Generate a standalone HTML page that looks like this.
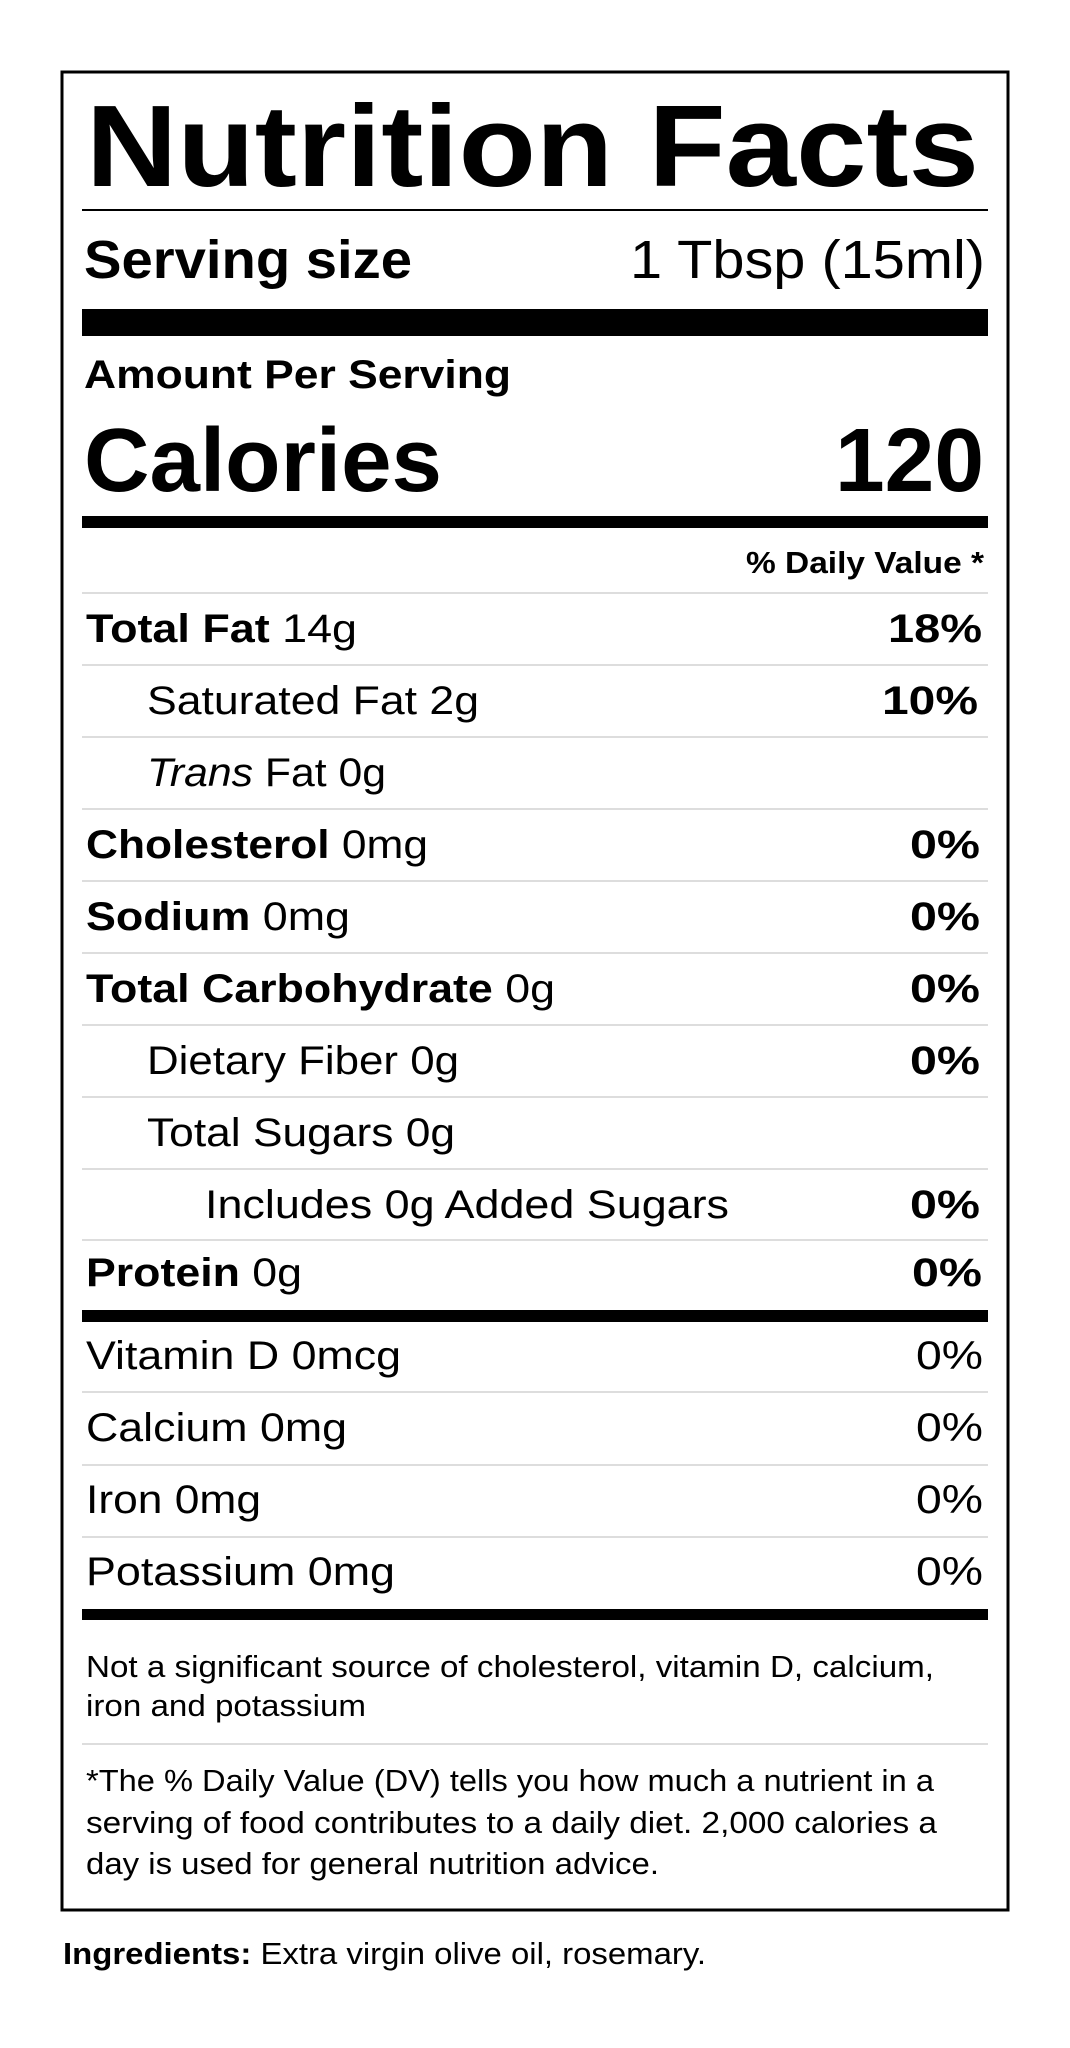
<!DOCTYPE html>
<html><head><meta charset="utf-8"><style>html,body{margin:0;padding:0;background:#fff}svg{display:block}text{font-family:"Liberation Sans",Arial,sans-serif;fill:#000}</style></head><body>
<svg width="1070" height="2048" viewBox="0 0 1070 2048" xmlns="http://www.w3.org/2000/svg">
<rect x="62" y="72" width="946" height="1838" fill="none" stroke="#000" stroke-width="3"/>
<text x="86" y="186" font-size="116" font-weight="bold" textLength="893" lengthAdjust="spacingAndGlyphs">Nutrition Facts</text>
<rect x="82" y="209" width="906" height="2" fill="#000"/>
<text x="84" y="278" font-size="54" font-weight="bold" textLength="328" lengthAdjust="spacingAndGlyphs">Serving size</text>
<text x="630" y="278" font-size="54" textLength="355" lengthAdjust="spacingAndGlyphs">1 Tbsp (15ml)</text>
<rect x="82" y="309" width="906" height="27" fill="#000"/>
<text x="84" y="388" font-size="40" font-weight="bold" textLength="427" lengthAdjust="spacingAndGlyphs">Amount Per Serving</text>
<text x="84" y="491" font-size="90" font-weight="bold" textLength="358" lengthAdjust="spacingAndGlyphs">Calories</text>
<text x="835" y="491" font-size="90" font-weight="bold" textLength="149" lengthAdjust="spacingAndGlyphs">120</text>
<rect x="82" y="516" width="906" height="12" fill="#000"/>
<text x="746" y="573" font-size="31" font-weight="bold" textLength="238" lengthAdjust="spacingAndGlyphs">% Daily Value *</text>
<g fill="#ddd">
<rect x="82" y="592" width="906" height="2"/>
<rect x="82" y="664" width="906" height="2"/>
<rect x="82" y="736" width="906" height="2"/>
<rect x="82" y="808" width="906" height="2"/>
<rect x="82" y="880" width="906" height="2"/>
<rect x="82" y="952" width="906" height="2"/>
<rect x="82" y="1024" width="906" height="2"/>
<rect x="82" y="1096" width="906" height="2"/>
<rect x="82" y="1168" width="906" height="2"/>
<rect x="82" y="1239" width="906" height="2"/>
<rect x="82" y="1391" width="906" height="2"/>
<rect x="82" y="1464" width="906" height="2"/>
<rect x="82" y="1536" width="906" height="2"/>
<rect x="82" y="1743" width="906" height="2"/>
</g>
<g font-size="40">
<text x="86" y="642" textLength="271" lengthAdjust="spacingAndGlyphs"><tspan font-weight="bold">Total Fat</tspan> 14g</text>
<text x="888" y="642" font-weight="bold" textLength="94" lengthAdjust="spacingAndGlyphs">18%</text>
<text x="147" y="714" textLength="332" lengthAdjust="spacingAndGlyphs">Saturated Fat 2g</text>
<text x="882" y="714" font-weight="bold" textLength="96" lengthAdjust="spacingAndGlyphs">10%</text>
<text x="147" y="786" textLength="239" lengthAdjust="spacingAndGlyphs"><tspan font-style="italic">Trans</tspan> Fat 0g</text>
<text x="86" y="858" textLength="342" lengthAdjust="spacingAndGlyphs"><tspan font-weight="bold">Cholesterol</tspan> 0mg</text>
<text x="910" y="858" font-weight="bold" textLength="70" lengthAdjust="spacingAndGlyphs">0%</text>
<text x="86" y="930" textLength="264" lengthAdjust="spacingAndGlyphs"><tspan font-weight="bold">Sodium</tspan> 0mg</text>
<text x="910" y="930" font-weight="bold" textLength="70" lengthAdjust="spacingAndGlyphs">0%</text>
<text x="86" y="1002" textLength="469" lengthAdjust="spacingAndGlyphs"><tspan font-weight="bold">Total Carbohydrate</tspan> 0g</text>
<text x="910" y="1002" font-weight="bold" textLength="70" lengthAdjust="spacingAndGlyphs">0%</text>
<text x="147" y="1074" textLength="312" lengthAdjust="spacingAndGlyphs">Dietary Fiber 0g</text>
<text x="910" y="1074" font-weight="bold" textLength="70" lengthAdjust="spacingAndGlyphs">0%</text>
<text x="147" y="1146" textLength="308" lengthAdjust="spacingAndGlyphs">Total Sugars 0g</text>
<text x="205" y="1218" textLength="524" lengthAdjust="spacingAndGlyphs">Includes 0g Added Sugars</text>
<text x="910" y="1218" font-weight="bold" textLength="70" lengthAdjust="spacingAndGlyphs">0%</text>
<text x="86" y="1286" textLength="216" lengthAdjust="spacingAndGlyphs"><tspan font-weight="bold">Protein</tspan> 0g</text>
<text x="912" y="1286" font-weight="bold" textLength="70" lengthAdjust="spacingAndGlyphs">0%</text>
</g>
<rect x="82" y="1310" width="906" height="12" fill="#000"/>
<g font-size="40">
<text x="86" y="1369" textLength="315" lengthAdjust="spacingAndGlyphs">Vitamin D 0mcg</text>
<text x="916" y="1369" textLength="67" lengthAdjust="spacingAndGlyphs">0%</text>
<text x="86" y="1441" textLength="261" lengthAdjust="spacingAndGlyphs">Calcium 0mg</text>
<text x="916" y="1441" textLength="67" lengthAdjust="spacingAndGlyphs">0%</text>
<text x="86" y="1513" textLength="175" lengthAdjust="spacingAndGlyphs">Iron 0mg</text>
<text x="916" y="1513" textLength="67" lengthAdjust="spacingAndGlyphs">0%</text>
<text x="86" y="1585" textLength="309" lengthAdjust="spacingAndGlyphs">Potassium 0mg</text>
<text x="916" y="1585" textLength="67" lengthAdjust="spacingAndGlyphs">0%</text>
</g>
<rect x="82" y="1609" width="906" height="11" fill="#000"/>
<g font-size="31">
<text x="86" y="1677" textLength="848" lengthAdjust="spacingAndGlyphs">Not a significant source of cholesterol, vitamin D, calcium,</text>
<text x="86" y="1716" textLength="280" lengthAdjust="spacingAndGlyphs">iron and potassium</text>
<text x="86" y="1791" textLength="848" lengthAdjust="spacingAndGlyphs">*The % Daily Value (DV) tells you how much a nutrient in a</text>
<text x="86" y="1833" textLength="851" lengthAdjust="spacingAndGlyphs">serving of food contributes to a daily diet. 2,000 calories a</text>
<text x="86" y="1874" textLength="573" lengthAdjust="spacingAndGlyphs">day is used for general nutrition advice.</text>
<text x="63" y="1964" textLength="643" lengthAdjust="spacingAndGlyphs"><tspan font-weight="bold">Ingredients:</tspan> Extra virgin olive oil, rosemary.</text>
</g>
</svg>
</body></html>
